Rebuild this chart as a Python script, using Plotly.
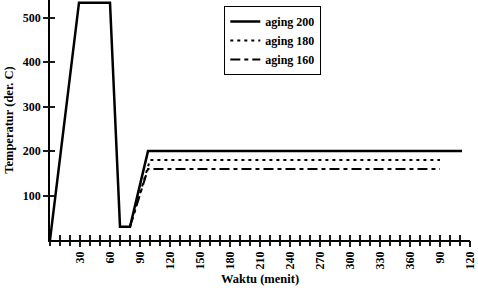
import plotly.graph_objects as go

# Data (minutes, degrees C)
t200 = [0, 29, 60, 70, 80, 98, 412]
T200 = [0, 534, 534, 30, 30, 200, 200]
t180 = [80, 100, 390]
T180 = [30, 180, 180]
t160 = [80, 98, 390]
T160 = [30, 160, 160]

tickvals = [30, 60, 90, 120, 150, 180, 210, 240, 270, 300, 330, 360, 390, 420]
ticktext = ["30", "60", "90", "120", "150", "180", "210", "240", "270", "300", "330", "360", "90", "120"]
ytickvals = [100, 200, 300, 400, 500]

FONT = "Liberation Serif"

fig = go.Figure()
fig.add_trace(go.Scatter(x=t160, y=T160, mode="lines", name="aging 160",
                         line=dict(color="black", width=2, dash="10px,4px,4px,4px")))
fig.add_trace(go.Scatter(x=t180, y=T180, mode="lines", name="aging 180",
                         line=dict(color="black", width=2, dash="3px,4px")))
fig.add_trace(go.Scatter(x=t200, y=T200, mode="lines", name="aging 200",
                         line=dict(color="black", width=2.5)))
# invisible helper traces so the overlay tick axes are drawn
fig.add_trace(go.Scatter(x=[0], y=[0], xaxis="x2", yaxis="y2", mode="markers",
                         marker=dict(opacity=0), showlegend=False, hoverinfo="skip"))
fig.add_trace(go.Scatter(x=[0], y=[0], xaxis="x3", yaxis="y3", mode="markers",
                         marker=dict(opacity=0), showlegend=False, hoverinfo="skip"))

axfont = dict(family=FONT, size=12, color="black", weight="bold")
titfont = dict(family=FONT, size=12.5, color="black", weight="bold")
tk = dict(ticklen=5, tickwidth=1.5, tickcolor="#1a1a1a")
fig.update_layout(
    width=478, height=288,
    margin=dict(l=50, r=8, t=0, b=48),
    paper_bgcolor="white", plot_bgcolor="white",
    showlegend=True,
    legend=dict(x=0.415, y=0.975, xanchor="left", yanchor="top",
                bordercolor="black", borderwidth=1, bgcolor="white",
                traceorder="reversed",
                font=dict(family=FONT, size=12, color="black", weight="bold"),
                tracegroupgap=0, itemwidth=30),
    xaxis=dict(range=[0, 420], tickvals=tickvals, ticktext=ticktext, tickangle=-90,
               ticks="outside", **tk,
               showline=True, linecolor="black", linewidth=1.5, showgrid=False, zeroline=False,
               tickfont=axfont,
               title=dict(text="Waktu (menit)", font=titfont, standoff=6)),
    yaxis=dict(range=[0, 540], tickvals=ytickvals,
               ticks="outside", **tk,
               showline=True, linecolor="black", linewidth=1.5, showgrid=False, zeroline=False,
               tickfont=axfont,
               title=dict(text="Temperatur (der. C)", font=titfont, standoff=6)),
    # inner half of the crossing ticks
    xaxis2=dict(range=[0, 420], overlaying="x", anchor="y2", tickmode="linear", tick0=0, dtick=10,
                showticklabels=False, ticks="inside", **tk,
                showline=False, showgrid=False, zeroline=False),
    yaxis2=dict(range=[0, 540], overlaying="y", anchor="x2", tickvals=ytickvals, showticklabels=False,
                ticks="inside", **tk, showline=False, showgrid=False, zeroline=False),
    # outer half of the crossing ticks (10-minute steps)
    xaxis3=dict(range=[0, 420], overlaying="x", anchor="y3", tickmode="linear", tick0=0, dtick=10,
                showticklabels=False, ticks="outside", **tk,
                showline=False, showgrid=False, zeroline=False),
    yaxis3=dict(range=[0, 540], overlaying="y", anchor="x3", tickvals=ytickvals, showticklabels=False,
                ticks="outside", **tk, showline=False, showgrid=False, zeroline=False),
)

fig.write_html("out.html")
